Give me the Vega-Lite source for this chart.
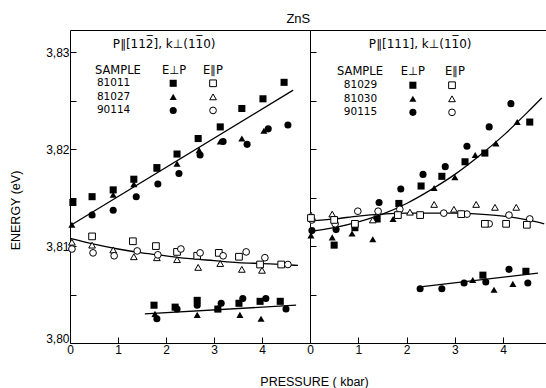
{
  "$schema": "https://vega.github.io/schema/vega-lite/v6.json",
  "padding": {"left": 9, "top": 12, "right": 0, "bottom": 0},
  "title": {"text": "ZnS", "fontSize": 13, "fontWeight": "normal", "font": "Liberation Sans", "color": "black", "anchor": "middle", "offset": 4, "dx": 20},
  "spacing": 0,
  "bounds": "flush",
  "config": {
    "view": {"stroke": "black", "strokeWidth": 1},
    "axis": {"domain": false, "grid": false, "tickColor": "black", "tickSize": -6, "tickWidth": 1, "labelColor": "black", "labelFont": "Liberation Sans", "labelFontSize": 12, "titleFont": "Liberation Sans", "titleFontSize": 12.5, "titleFontWeight": "normal", "titleColor": "black", "labelFlush": false},
    "text": {"font": "DejaVu Sans", "color": "black"}
  },
  "datasets": {
    "ptsL": [
      {"p": 0.06, "e": 3.8145, "s": "s", "o": false}, {"p": 0.46, "e": 3.8151, "s": "s", "o": false}, {"p": 0.90, "e": 3.8158, "s": "s", "o": false}, {"p": 1.33, "e": 3.8169, "s": "s", "o": false}, {"p": 1.81, "e": 3.8181, "s": "s", "o": false}, {"p": 2.23, "e": 3.8195, "s": "s", "o": false}, {"p": 2.67, "e": 3.8211, "s": "s", "o": false}, {"p": 3.13, "e": 3.8223, "s": "s", "o": false}, {"p": 3.58, "e": 3.8242, "s": "s", "o": false}, {"p": 4.02, "e": 3.8252, "s": "s", "o": false}, {"p": 4.46, "e": 3.8269, "s": "s", "o": false},
      {"p": 0.04, "e": 3.8122, "s": "t", "o": false}, {"p": 0.46, "e": 3.8133, "s": "t", "o": false}, {"p": 0.90, "e": 3.8153, "s": "t", "o": false}, {"p": 1.33, "e": 3.8164, "s": "t", "o": false}, {"p": 1.81, "e": 3.8180, "s": "t", "o": false}, {"p": 2.23, "e": 3.8185, "s": "t", "o": false}, {"p": 2.69, "e": 3.8199, "s": "t", "o": false}, {"p": 3.13, "e": 3.8208, "s": "t", "o": false}, {"p": 3.58, "e": 3.8211, "s": "t", "o": false}, {"p": 4.04, "e": 3.8219, "s": "t", "o": false},
      {"p": 0.46, "e": 3.8132, "s": "c", "o": false}, {"p": 0.90, "e": 3.8137, "s": "c", "o": false}, {"p": 1.38, "e": 3.8151, "s": "c", "o": false}, {"p": 1.83, "e": 3.8164, "s": "c", "o": false}, {"p": 2.27, "e": 3.8175, "s": "c", "o": false}, {"p": 2.71, "e": 3.8194, "s": "c", "o": false}, {"p": 3.19, "e": 3.8208, "s": "c", "o": false}, {"p": 3.69, "e": 3.8205, "s": "c", "o": false}, {"p": 4.13, "e": 3.8221, "s": "c", "o": false}, {"p": 4.54, "e": 3.8225, "s": "c", "o": false},
      {"p": 1.75, "e": 3.8039, "s": "s", "o": false}, {"p": 2.19, "e": 3.8037, "s": "s", "o": false}, {"p": 2.65, "e": 3.8044, "s": "s", "o": false}, {"p": 3.08, "e": 3.8035, "s": "s", "o": false}, {"p": 3.52, "e": 3.8041, "s": "s", "o": false}, {"p": 3.96, "e": 3.8043, "s": "s", "o": false}, {"p": 4.38, "e": 3.8043, "s": "s", "o": false},
      {"p": 1.77, "e": 3.8030, "s": "t", "o": false}, {"p": 2.65, "e": 3.8029, "s": "t", "o": false}, {"p": 3.08, "e": 3.8036, "s": "t", "o": false}, {"p": 3.54, "e": 3.8029, "s": "t", "o": false}, {"p": 3.98, "e": 3.8025, "s": "t", "o": false},
      {"p": 1.81, "e": 3.8025, "s": "c", "o": false}, {"p": 2.23, "e": 3.8035, "s": "c", "o": false}, {"p": 2.65, "e": 3.8039, "s": "c", "o": false}, {"p": 3.15, "e": 3.8041, "s": "c", "o": false}, {"p": 3.60, "e": 3.8046, "s": "c", "o": false}, {"p": 4.08, "e": 3.8046, "s": "c", "o": false}, {"p": 4.50, "e": 3.8035, "s": "c", "o": false},
      {"p": 0.46, "e": 3.8110, "s": "s", "o": true}, {"p": 1.31, "e": 3.8105, "s": "s", "o": true}, {"p": 1.79, "e": 3.8100, "s": "s", "o": true}, {"p": 2.23, "e": 3.8094, "s": "s", "o": true}, {"p": 2.65, "e": 3.8090, "s": "s", "o": true}, {"p": 3.10, "e": 3.8093, "s": "s", "o": true}, {"p": 3.52, "e": 3.8089, "s": "s", "o": true}, {"p": 3.96, "e": 3.8081, "s": "s", "o": true}, {"p": 4.40, "e": 3.8081, "s": "s", "o": true},
      {"p": 0.04, "e": 3.8104, "s": "t", "o": true}, {"p": 0.46, "e": 3.8101, "s": "t", "o": true}, {"p": 0.90, "e": 3.8096, "s": "t", "o": true}, {"p": 1.33, "e": 3.8089, "s": "t", "o": true}, {"p": 1.81, "e": 3.8088, "s": "t", "o": true}, {"p": 2.23, "e": 3.8086, "s": "t", "o": true}, {"p": 2.67, "e": 3.8078, "s": "t", "o": true}, {"p": 3.13, "e": 3.8082, "s": "t", "o": true}, {"p": 3.58, "e": 3.8076, "s": "t", "o": true}, {"p": 4.00, "e": 3.8075, "s": "t", "o": true},
      {"p": 0.04, "e": 3.8097, "s": "c", "o": true}, {"p": 0.48, "e": 3.8093, "s": "c", "o": true}, {"p": 0.92, "e": 3.8090, "s": "c", "o": true}, {"p": 1.40, "e": 3.8095, "s": "c", "o": true}, {"p": 1.83, "e": 3.8091, "s": "c", "o": true}, {"p": 2.31, "e": 3.8097, "s": "c", "o": true}, {"p": 2.71, "e": 3.8093, "s": "c", "o": true}, {"p": 3.19, "e": 3.8090, "s": "c", "o": true}, {"p": 3.67, "e": 3.8094, "s": "c", "o": true}, {"p": 4.06, "e": 3.8088, "s": "c", "o": true}, {"p": 4.54, "e": 3.8081, "s": "c", "o": true},
      {"p": 2.15, "e": 3.8268, "s": "s", "o": false}, {"p": 2.15, "e": 3.8254, "s": "t", "o": false}, {"p": 2.15, "e": 3.8240, "s": "c", "o": false},
      {"p": 2.98, "e": 3.8268, "s": "s", "o": true}, {"p": 2.98, "e": 3.8254, "s": "t", "o": true}, {"p": 2.98, "e": 3.8240, "s": "c", "o": true}
    ],
    "ptsR": [
      {"p": 0.04, "e": 3.8116, "s": "c", "o": false}, {"p": 0.54, "e": 3.8117, "s": "c", "o": false}, {"p": 1.43, "e": 3.8145, "s": "c", "o": false}, {"p": 1.88, "e": 3.8159, "s": "c", "o": false}, {"p": 2.34, "e": 3.8174, "s": "c", "o": false}, {"p": 2.80, "e": 3.8182, "s": "c", "o": false}, {"p": 3.25, "e": 3.8203, "s": "c", "o": false}, {"p": 3.71, "e": 3.8223, "s": "c", "o": false}, {"p": 4.16, "e": 3.8247, "s": "c", "o": false},
      {"p": 0.02, "e": 3.8111, "s": "t", "o": false}, {"p": 0.46, "e": 3.8109, "s": "t", "o": false}, {"p": 0.87, "e": 3.8113, "s": "t", "o": false}, {"p": 1.30, "e": 3.8107, "s": "t", "o": false}, {"p": 1.72, "e": 3.8128, "s": "t", "o": false}, {"p": 2.57, "e": 3.8160, "s": "t", "o": false}, {"p": 3.00, "e": 3.8171, "s": "t", "o": false}, {"p": 3.42, "e": 3.8194, "s": "t", "o": false}, {"p": 3.85, "e": 3.8206, "s": "t", "o": false}, {"p": 4.29, "e": 3.8228, "s": "t", "o": false},
      {"p": 0.50, "e": 3.8101, "s": "s", "o": false}, {"p": 0.93, "e": 3.8119, "s": "s", "o": false}, {"p": 1.39, "e": 3.8128, "s": "s", "o": false}, {"p": 1.84, "e": 3.8144, "s": "s", "o": false}, {"p": 2.30, "e": 3.8162, "s": "s", "o": false}, {"p": 2.73, "e": 3.8172, "s": "s", "o": false}, {"p": 3.21, "e": 3.8187, "s": "s", "o": false}, {"p": 3.62, "e": 3.8196, "s": "s", "o": false}, {"p": 4.55, "e": 3.8228, "s": "s", "o": false},
      {"p": 2.28, "e": 3.8056, "s": "c", "o": false}, {"p": 2.73, "e": 3.8056, "s": "c", "o": false}, {"p": 3.19, "e": 3.8062, "s": "c", "o": false}, {"p": 3.64, "e": 3.8063, "s": "c", "o": false}, {"p": 4.12, "e": 3.8076, "s": "c", "o": false}, {"p": 4.51, "e": 3.8062, "s": "c", "o": false},
      {"p": 3.58, "e": 3.8070, "s": "s", "o": false}, {"p": 4.47, "e": 3.8074, "s": "s", "o": false},
      {"p": 3.37, "e": 3.8065, "s": "t", "o": false}, {"p": 3.81, "e": 3.8055, "s": "t", "o": false}, {"p": 4.20, "e": 3.8061, "s": "t", "o": false},
      {"p": 0.02, "e": 3.8132, "s": "t", "o": true}, {"p": 0.46, "e": 3.8133, "s": "t", "o": true}, {"p": 1.30, "e": 3.8127, "s": "t", "o": true}, {"p": 2.07, "e": 3.8135, "s": "t", "o": true}, {"p": 2.57, "e": 3.8143, "s": "t", "o": true}, {"p": 2.98, "e": 3.8138, "s": "t", "o": true}, {"p": 3.44, "e": 3.8143, "s": "t", "o": true}, {"p": 3.83, "e": 3.8140, "s": "t", "o": true}, {"p": 4.27, "e": 3.8140, "s": "t", "o": true},
      {"p": 0.04, "e": 3.8127, "s": "c", "o": true}, {"p": 0.52, "e": 3.8123, "s": "c", "o": true}, {"p": 0.99, "e": 3.8136, "s": "c", "o": true}, {"p": 1.41, "e": 3.8136, "s": "c", "o": true}, {"p": 1.86, "e": 3.8138, "s": "c", "o": true}, {"p": 2.77, "e": 3.8134, "s": "c", "o": true}, {"p": 3.25, "e": 3.8133, "s": "c", "o": true}, {"p": 3.71, "e": 3.8123, "s": "c", "o": true}, {"p": 4.12, "e": 3.8132, "s": "c", "o": true}, {"p": 4.55, "e": 3.8128, "s": "c", "o": true},
      {"p": 0.02, "e": 3.8129, "s": "s", "o": true}, {"p": 0.50, "e": 3.8127, "s": "s", "o": true}, {"p": 0.93, "e": 3.8123, "s": "s", "o": true}, {"p": 1.82, "e": 3.8132, "s": "s", "o": true}, {"p": 2.28, "e": 3.8132, "s": "s", "o": true}, {"p": 3.13, "e": 3.8133, "s": "s", "o": true}, {"p": 3.62, "e": 3.8123, "s": "s", "o": true}, {"p": 4.06, "e": 3.8123, "s": "s", "o": true}, {"p": 4.49, "e": 3.8122, "s": "s", "o": true},
      {"p": 2.13, "e": 3.8266, "s": "s", "o": false}, {"p": 2.13, "e": 3.8252, "s": "t", "o": false}, {"p": 2.13, "e": 3.8238, "s": "c", "o": false},
      {"p": 2.94, "e": 3.8266, "s": "s", "o": true}, {"p": 2.94, "e": 3.8252, "s": "t", "o": true}, {"p": 2.94, "e": 3.8238, "s": "c", "o": true}
    ],
    "linesL": [
      {"g": "a", "p": 0, "e": 3.8121}, {"g": "a", "p": 4.65, "e": 3.8261},
      {"g": "b", "p": 0, "e": 3.8108}, {"g": "b", "p": 0.5, "e": 3.8102}, {"g": "b", "p": 1, "e": 3.8097}, {"g": "b", "p": 1.5, "e": 3.8093}, {"g": "b", "p": 2, "e": 3.8090}, {"g": "b", "p": 2.5, "e": 3.8087}, {"g": "b", "p": 3, "e": 3.8085}, {"g": "b", "p": 3.5, "e": 3.8083}, {"g": "b", "p": 4, "e": 3.8082}, {"g": "b", "p": 4.5, "e": 3.8081}, {"g": "b", "p": 4.75, "e": 3.8080},
      {"g": "c", "p": 1.56, "e": 3.8030}, {"g": "c", "p": 4.71, "e": 3.8039}
    ],
    "linesR": [
      {"g": "a", "p": 0, "e": 3.8115}, {"g": "a", "p": 0.5, "e": 3.8119}, {"g": "a", "p": 1, "e": 3.8125}, {"g": "a", "p": 1.5, "e": 3.8133}, {"g": "a", "p": 2, "e": 3.8144}, {"g": "a", "p": 2.5, "e": 3.8158}, {"g": "a", "p": 3, "e": 3.8174}, {"g": "a", "p": 3.5, "e": 3.8193}, {"g": "a", "p": 4, "e": 3.8214}, {"g": "a", "p": 4.5, "e": 3.8238}, {"g": "a", "p": 4.8, "e": 3.8253},
      {"g": "b", "p": 0, "e": 3.8126}, {"g": "b", "p": 0.5, "e": 3.8128}, {"g": "b", "p": 1, "e": 3.8131}, {"g": "b", "p": 1.5, "e": 3.8133}, {"g": "b", "p": 2, "e": 3.8134}, {"g": "b", "p": 2.5, "e": 3.8134}, {"g": "b", "p": 3, "e": 3.8134}, {"g": "b", "p": 3.5, "e": 3.8133}, {"g": "b", "p": 4, "e": 3.8131}, {"g": "b", "p": 4.5, "e": 3.8127}, {"g": "b", "p": 4.85, "e": 3.8123},
      {"g": "c", "p": 2.28, "e": 3.8058}, {"g": "c", "p": 4.72, "e": 3.8072}
    ],
    "textL": [
      {"p": 0.52, "e": 3.8281, "t": "SAMPLE", "a": "l", "f": 11.5},
      {"p": 0.56, "e": 3.8268, "t": "81011", "a": "l", "f": 10.5},
      {"p": 0.56, "e": 3.8254, "t": "81027", "a": "l", "f": 10.5},
      {"p": 0.56, "e": 3.8240, "t": "90114", "a": "l", "f": 10.5},
      {"p": 2.17, "e": 3.8281, "t": "E⊥P", "a": "c", "f": 11.5},
      {"p": 2.98, "e": 3.8281, "t": "E∥P", "a": "c", "f": 11.5},
      {"p": 1.96, "e": 3.8309, "t": "P∥[112̅], k⊥(11̅0)", "a": "c", "f": 12}
    ],
    "textR": [
      {"p": 0.56, "e": 3.8280, "t": "SAMPLE", "a": "l", "f": 11.5},
      {"p": 0.70, "e": 3.8266, "t": "81029", "a": "l", "f": 10.5},
      {"p": 0.70, "e": 3.8252, "t": "81030", "a": "l", "f": 10.5},
      {"p": 0.70, "e": 3.8238, "t": "90115", "a": "l", "f": 10.5},
      {"p": 2.13, "e": 3.8280, "t": "E⊥P", "a": "c", "f": 11.5},
      {"p": 3.00, "e": 3.8280, "t": "E∥P", "a": "c", "f": 11.5},
      {"p": 2.28, "e": 3.8309, "t": "P∥[111], k⊥(11̅0)", "a": "c", "f": 12}
    ]
  },
  "hconcat": [
    {
      "width": 240,
      "height": 313,
      "encoding": {
        "x": {"field": "p", "type": "quantitative", "scale": {"domain": [0, 5], "nice": false, "zero": false},
              "axis": {"values": [0, 1, 2, 3, 4], "title": "PRESSURE ( kbar)", "titleX": 244, "titlePadding": 20, "labelPadding": 7}},
        "y": {"field": "e", "type": "quantitative", "scale": {"domain": [3.80, 3.8323], "nice": false, "zero": false},
              "axis": {"values": [3.80, 3.805, 3.81, 3.815, 3.82, 3.825, 3.83], "labelExpr": "abs(round(datum.value*200)) % 2 == 0 ? replace(format(datum.value, '.2f'), '.', ',') : ''", "title": "ENERGY (eV)", "titlePadding": 23, "labelPadding": 7, "titleY": 180, "labelFlush": true, "labelFlushOffset": 2}}
      },
      "layer": [
        {"data": {"name": "linesL"}, "mark": {"type": "line", "color": "black", "strokeWidth": 1.3, "interpolate": "monotone"}, "encoding": {"detail": {"field": "g"}}},
        {"data": {"name": "ptsL"}, "transform": [{"filter": "!datum.o"}], "mark": {"type": "point", "filled": true, "color": "black", "opacity": 1, "size": 50},
         "encoding": {"shape": {"field": "s", "type": "nominal", "scale": {"domain": ["s", "t", "c"], "range": ["square", "triangle-up", "circle"]}, "legend": null}}},
        {"data": {"name": "ptsL"}, "transform": [{"filter": "datum.o"}], "mark": {"type": "point", "filled": false, "fill": "white", "fillOpacity": 1, "stroke": "black", "strokeWidth": 1, "opacity": 1, "size": 45},
         "encoding": {"shape": {"field": "s", "type": "nominal", "scale": {"domain": ["s", "t", "c"], "range": ["square", "triangle-up", "circle"]}, "legend": null}}},
        {"data": {"name": "textL"}, "transform": [{"filter": "datum.a == 'l'"}], "mark": {"type": "text", "align": "left", "baseline": "middle"},
         "encoding": {"text": {"field": "t"}, "size": {"field": "f", "type": "quantitative", "scale": null}}},
        {"data": {"name": "textL"}, "transform": [{"filter": "datum.a == 'c'"}], "mark": {"type": "text", "align": "center", "baseline": "middle"},
         "encoding": {"text": {"field": "t"}, "size": {"field": "f", "type": "quantitative", "scale": null}}}
      ]
    },
    {
      "width": 237,
      "height": 313,
      "encoding": {
        "x": {"field": "p", "type": "quantitative", "scale": {"domain": [0, 4.907], "nice": false, "zero": false},
              "axis": {"values": [0, 1, 2, 3, 4], "title": null, "labelPadding": 7}},
        "y": {"field": "e", "type": "quantitative", "scale": {"domain": [3.80, 3.8323], "nice": false, "zero": false},
              "axis": {"values": [3.80, 3.805, 3.81, 3.815, 3.82, 3.825, 3.83], "labels": false, "title": null}}
      },
      "layer": [
        {"data": {"name": "linesR"}, "mark": {"type": "line", "color": "black", "strokeWidth": 1.3, "interpolate": "monotone"}, "encoding": {"detail": {"field": "g"}}},
        {"data": {"name": "ptsR"}, "transform": [{"filter": "!datum.o"}], "mark": {"type": "point", "filled": true, "color": "black", "opacity": 1, "size": 50},
         "encoding": {"shape": {"field": "s", "type": "nominal", "scale": {"domain": ["s", "t", "c"], "range": ["square", "triangle-up", "circle"]}, "legend": null}}},
        {"data": {"name": "ptsR"}, "transform": [{"filter": "datum.o"}], "mark": {"type": "point", "filled": false, "fill": "white", "fillOpacity": 1, "stroke": "black", "strokeWidth": 1, "opacity": 1, "size": 45},
         "encoding": {"shape": {"field": "s", "type": "nominal", "scale": {"domain": ["s", "t", "c"], "range": ["square", "triangle-up", "circle"]}, "legend": null}}},
        {"data": {"name": "textR"}, "transform": [{"filter": "datum.a == 'l'"}], "mark": {"type": "text", "align": "left", "baseline": "middle"},
         "encoding": {"text": {"field": "t"}, "size": {"field": "f", "type": "quantitative", "scale": null}}},
        {"data": {"name": "textR"}, "transform": [{"filter": "datum.a == 'c'"}], "mark": {"type": "text", "align": "center", "baseline": "middle"},
         "encoding": {"text": {"field": "t"}, "size": {"field": "f", "type": "quantitative", "scale": null}}}
      ]
    }
  ]
}
